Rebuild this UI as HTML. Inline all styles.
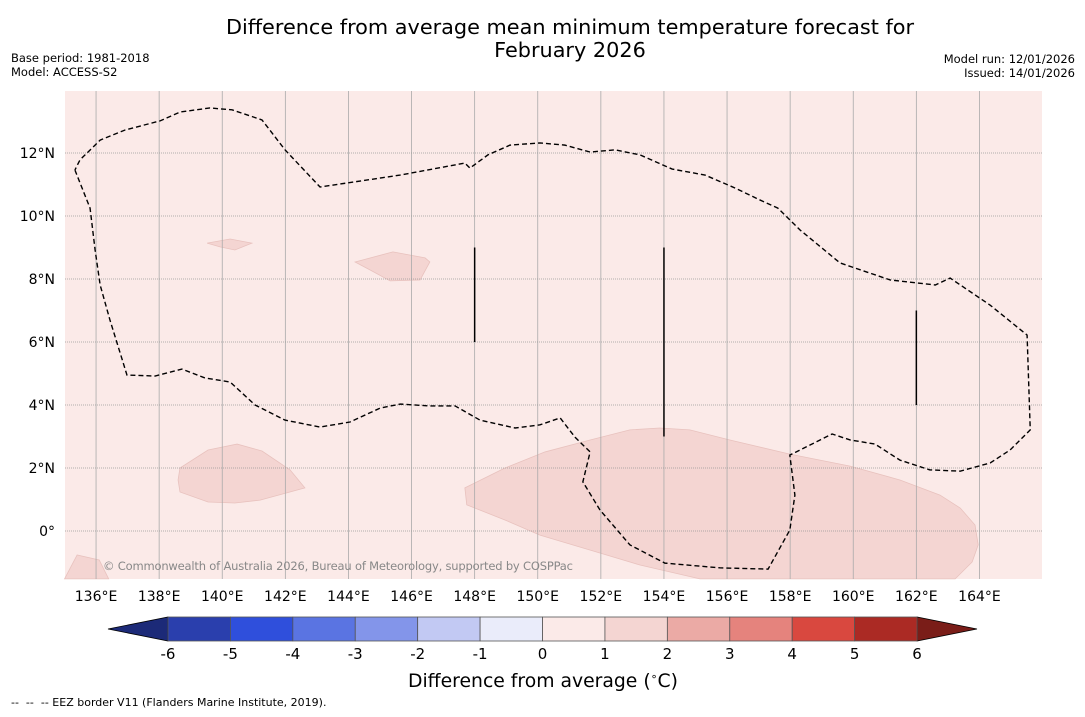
<!DOCTYPE html>
<html><head><meta charset="utf-8"><style>
body{margin:0;background:#fff;width:1085px;height:713px;overflow:hidden;font-family:"DejaVu Sans","Liberation Sans",sans-serif}
</style></head><body>
<svg id="c" width="1085" height="713" xmlns="http://www.w3.org/2000/svg">
<text x="570" y="34" font-size="20.8" text-anchor="middle">Difference from average mean minimum temperature forecast for</text>
<text x="570" y="57" font-size="20.8" text-anchor="middle">February 2026</text>
<text x="11" y="62" font-size="11.5">Base period: 1981-2018</text>
<text x="11" y="76" font-size="11.5">Model: ACCESS-S2</text>
<text x="1075" y="63" font-size="11.5" text-anchor="end">Model run: 12/01/2026</text>
<text x="1075" y="77" font-size="11.5" text-anchor="end">Issued: 14/01/2026</text>
<g id="map"></g>
<g id="cbar"></g>
<text x="543" y="687" font-size="18.8" text-anchor="middle">Difference from average (<tspan font-size="11" dy="-7">∘</tspan><tspan dy="7">C)</tspan></text>
<text x="11" y="706" font-size="11" xml:space="preserve" style="white-space:pre">--  --  -- EEZ border V11 (Flanders Marine Institute, 2019).</text>
</svg>
<script>
const NS="http://www.w3.org/2000/svg";
const lonTicks=[136,138,140,142,144,146,148,150,152,154,156,158,160,162,164];
const latTicks=[0,2,4,6,8,10,12];
const eezLon=[135.33,135.81,135.97,136.13,136.44,136.98,137.87,138.72,139.45,140.25,141.04,141.99,143.10,144.05,145.00,145.64,146.59,147.38,148.17,149.28,150.07,150.71,151.18,151.66,151.43,151.97,152.92,154.03,155.77,157.30,157.99,158.15,157.99,158.63,159.33,159.90,160.69,161.48,162.43,163.39,164.34,164.97,165.61,165.51,164.34,163.07,162.60,161.17,159.58,158.31,157.61,157.04,156.25,155.30,154.26,153.24,152.45,151.66,150.86,150.07,149.12,148.42,147.85,147.69,145.64,143.10,141.99,141.26,140.31,139.61,138.66,138.03,136.92,136.13,135.49,135.33];
const eezLat=[11.46,10.25,8.92,7.81,6.70,4.95,4.92,5.14,4.86,4.73,4.0,3.52,3.30,3.46,3.90,4.03,3.97,3.97,3.52,3.27,3.37,3.59,2.98,2.51,1.56,0.67,-0.44,-1.02,-1.17,-1.21,0.03,1.14,2.41,2.73,3.08,2.89,2.76,2.25,1.94,1.90,2.16,2.57,3.21,6.22,7.17,8.03,7.81,7.97,8.51,9.56,10.25,10.51,10.89,11.30,11.49,11.94,12.10,12.03,12.25,12.32,12.25,11.94,11.52,11.68,11.30,10.92,12.10,13.05,13.37,13.43,13.30,13.02,12.73,12.41,11.78,11.46];
const blobs=[
 {lon:[147.69,148.96,150.23,151.66,152.92,153.87,154.82,156.09,157.99,159.90,161.48,162.75,163.39,163.86,163.96,163.77,163.23,155.14,153.24,151.97,150.07,148.96,147.75],
  lat:[1.37,2.0,2.51,2.89,3.21,3.27,3.21,2.89,2.44,2.06,1.62,1.14,0.73,0.19,-0.44,-0.98,-1.52,-1.52,-1.08,-0.70,-0.13,0.35,0.83]},
 {lon:[138.66,139.55,140.47,141.26,142.15,142.62,141.20,140.40,139.55,138.66,138.60],
  lat:[2.0,2.57,2.76,2.54,1.94,1.37,0.98,0.89,0.92,1.24,1.62]},
 {lon:[144.21,145.41,146.43,146.58,146.27,145.32,144.68],lat:[8.54,8.86,8.67,8.54,7.97,7.94,8.29]},
 {lon:[139.52,140.25,140.94,140.40,139.93],lat:[9.14,9.27,9.14,8.92,9.02]},
 {lon:[135.0,135.4,136.1,136.4],lat:[-1.52,-0.76,-0.92,-1.52]}];
const vLinesLon=[148,154,162], vLinesLat0=[6,3,4], vLinesLat1=[9,9,7];
const levels=[-6,-5,-4,-3,-2,-1,0,1,2,3,4,5,6];
const levelColors=["#2a3fad","#2f4fdc","#5a74e2","#8395ea","#c2c9f3","#eaecfa","#fbeae8","#f4d5d2","#ebaaa5","#e5837d","#d9483f","#ab2a24"];
const x=lon=>64.5+(lon-135)*31.55, y=lat=>531-lat*31.5;
function el(t,a,p){const e=document.createElementNS(NS,t);for(const k in a)e.setAttribute(k,a[k]);p.appendChild(e);return e;}
const m=document.getElementById('map');
let r=el('rect',{x:65,y:91,width:977,height:488,fill:'#fbeae8'},m);


blobs.forEach((b,i)=>{const p=el('polygon',{points:b.lon.map((l,j)=>x(l)+','+y(b.lat[j])).join(' '),fill:'#f4d5d2',stroke:'#e8c2be','stroke-width':0.8},m);

});
lonTicks.forEach(l=>{const g=el('line',{x1:x(l),x2:x(l),y1:91,y2:579,stroke:'#aaa','stroke-width':0.8},m);


const t=el('text',{x:x(l),y:601,'font-size':14,'text-anchor':'middle'},m);t.textContent=l+'°E';

});
latTicks.forEach(l=>{const g=el('line',{x1:65,x2:1042,y1:y(l),y2:y(l),stroke:'#999','stroke-width':0.8,'stroke-dasharray':'1,1'},m);


const t=el('text',{x:55,y:y(l)+5,'font-size':14,'text-anchor':'end'},m);t.textContent=(l===0?'0°':l+'°N');

});
const eez=el('polyline',{points:eezLon.map((l,j)=>x(l)+','+y(eezLat[j])).join(' '),fill:'none',stroke:'#000','stroke-width':1.4,'stroke-dasharray':'5,3'},m);


vLinesLon.forEach((l,i)=>{const v=el('line',{x1:x(l),x2:x(l),y1:y(vLinesLat0[i]),y2:y(vLinesLat1[i]),stroke:'#000','stroke-width':1.5},m);

});
const cp=el('text',{x:103,y:570,'font-size':11.5,fill:'#888',textLength:470},m);cp.textContent='© Commonwealth of Australia 2026, Bureau of Meteorology, supported by COSPPac';


const cb=document.getElementById('cbar');
const cx=v=>168+(v+6)*62.42;
const lo=el('polygon',{points:`108,629 ${cx(-6)},617 ${cx(-6)},641`,fill:'#1c2a78',stroke:'#000','stroke-width':0.8},cb);


const hi=el('polygon',{points:`977,629 ${cx(6)},617 ${cx(6)},641`,fill:'#7a1d18',stroke:'#000','stroke-width':0.8},cb);


levelColors.forEach((c,i)=>{const s=el('rect',{x:cx(levels[i]),y:617,width:cx(levels[i+1])-cx(levels[i]),height:24,fill:c,stroke:'#555','stroke-width':0.8},cb);

});
levels.forEach(v=>{const t=el('text',{x:cx(v),y:659,'font-size':15,'text-anchor':'middle'},cb);t.textContent=v;

});
</script>
</body></html>
